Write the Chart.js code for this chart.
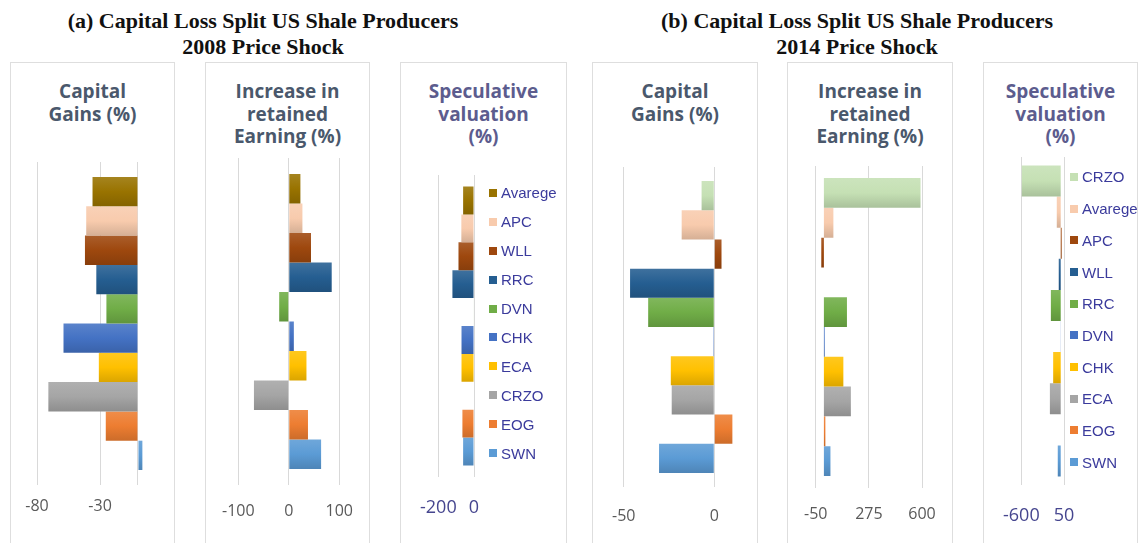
<!DOCTYPE html>
<html>
<head>
<meta charset="utf-8">
<script src="https://cdn.jsdelivr.net/npm/chart.js@4.4.1/dist/chart.umd.min.js"></script>
<style>
  html, body { margin: 0; padding: 0; background: #fff; overflow: hidden; }
  #page { position: relative; width: 1141px; height: 543px; overflow: hidden; }
  .head { position: absolute; top: 8px; width: 540px; text-align: center; font-family: "Liberation Serif", serif;
          font-weight: bold; font-size: 22px; line-height: 26px; color: #111; }
  .box { position: absolute; top: 62px; height: 520px; border: 1px solid #dedede; box-sizing: border-box; }
  canvas { position: absolute; top: 62px; }
  .ptitle { position: absolute; top: 80px; text-align: center; font-family: "Open Sans", sans-serif;
            font-weight: bold; font-size: 19px; line-height: 22.5px; color: #4a586c; }
  .ptitle.spec { color: #5c5c8e; }
  .legend { position: absolute; font-family: "Liberation Sans", Arial, sans-serif; font-size: 15px; color: #3b3b9c; }
  .legend .item { display: flex; align-items: center; white-space: nowrap; }
  .legend .sw { display: inline-block; width: 8px; height: 8px; margin-right: 4px; }
</style>
</head>
<body>
<div id="page">
  <div class="head" style="left:-7px">(a) Capital Loss Split US Shale Producers<br>2008 Price Shock</div>
  <div class="head" style="left:587px">(b) Capital Loss Split US Shale Producers<br>2014 Price Shock</div>
</div>
<script>
// ---- data ----
const firms2008 = ["Avarege", "APC", "WLL", "RRC", "DVN", "CHK", "ECA", "CRZO", "EOG", "SWN"];
const colors2008 = ["#997300", "#f8cbad", "#9e480e", "#255e91", "#70ad47", "#4472c4", "#ffc000", "#a5a5a5", "#ed7d31", "#5b9bd5"];
const capitalGains2008 = [-36, -41, -42, -33, -25, -59, -31, -71, -25.5, 3.5];
const retainedEarning2008 = [23, 27, 44, 85, -19, 10, 35, -69, 38, 64];
const speculative2008 = [-61, -71, -87, -121, -3, -70, -70, 0, -65, -61];

const firms2014 = ["CRZO", "Avarege", "APC", "WLL", "RRC", "DVN", "CHK", "ECA", "EOG", "SWN"];
const colors2014 = ["#c5e0b4", "#f8cbad", "#9e480e", "#255e91", "#70ad47", "#4472c4", "#ffc000", "#a5a5a5", "#ed7d31", "#5b9bd5"];
const capitalGains2014 = [-7, -18, 4, -46.5, -36.5, -0.5, -24, -23.5, 10, -30.5];
const retainedEarning2014 = [591, 58, -16, 0, 141, 5, 119, 165, 9, 40];
const speculative2014 = [-595, -60, 15, -30, -150, -2, -115, -165, 0, -45];

// tick labels shown on each value axis
const ticksGains2008 = [-80, -30];
const ticksEarning2008 = [-100, 0, 100];
const ticksSpec2008 = [-200, 0];
const ticksGains2014 = [-50, 0];
const ticksEarning2014 = [-50, 275, 600];
const ticksSpec2014 = [-600, 50];

// ---- layout of the six panels ----
const TOP = 62, H = 481;
const panels = [
  { title: ["Capital", "Gains (%)"], names: firms2008, colors: colors2008, values: capitalGains2008,
    ticks: ticksGains2008, extraGrid: [0], min: -80, max: 4,
    box: [10, 175], plot: [37, 143, 162, 485], barPct: 0.907, tickPad: 12, tickSize: 16, tickColor: "#595959" },
  { title: ["Increase in", "retained", "Earning (%)"], names: firms2008, colors: colors2008, values: retainedEarning2008,
    ticks: ticksEarning2008, extraGrid: [], min: -100, max: 100,
    box: [205, 370], plot: [237, 341, 158, 485], barPct: 0.902, tickPad: 17, tickSize: 16, tickColor: "#595959" },
  { title: ["Speculative", "valuation", "(%)"], spec: true, names: firms2008, colors: colors2008, values: speculative2008,
    ticks: ticksSpec2008, extraGrid: [], min: -200, max: 0,
    box: [400, 567], plot: [435, 474, 175, 477], barPct: 0.924, tickPad: 20, tickSize: 18, tickColor: "#46468f",
    legend: { x: 489, y: 193, step: 28.9 } },
  { title: ["Capital", "Gains (%)"], names: firms2014, colors: colors2014, values: capitalGains2014,
    ticks: ticksGains2014, extraGrid: [], min: -50, max: 12,
    box: [592, 758], plot: [619, 736, 167, 487], barPct: 0.912, tickPad: 20, tickSize: 16, tickColor: "#595959" },
  { title: ["Increase in", "retained", "Earning (%)"], names: firms2014, colors: colors2014, values: retainedEarning2014,
    ticks: ticksEarning2014, extraGrid: [], min: -50, max: 600,
    box: [787, 953], plot: [814, 922, 166, 488], barPct: 0.925, tickPad: 17, tickSize: 16, tickColor: "#595959" },
  { title: ["Speculative", "valuation", "(%)"], spec: true, names: firms2014, colors: colors2014, values: speculative2014,
    ticks: ticksSpec2014, extraGrid: [], min: -600, max: 50,
    box: [983, 1138], plot: [1017, 1064, 157, 485], barPct: 0.948, tickPad: 20, tickSize: 18, tickColor: "#46468f",
    legend: { x: 1070, y: 177, step: 31.7 } },
];

const page = document.getElementById("page");

// mix a hex colour towards white (f > 0) or black (f < 0)
function shade(hex, f) {
  const n = parseInt(hex.slice(1), 16);
  const c = [(n >> 16) & 255, (n >> 8) & 255, n & 255].map((v) =>
    Math.round(f > 0 ? v + (255 - v) * f : v * (1 + f))
  );
  return "rgb(" + c.join(",") + ")";
}

// excel-like soft gradient on each bar, top lighter, bottom darker
function barFill(p, i) {
  return (ctx) => {
    const chart = ctx.chart;
    const area = chart.chartArea;
    if (!area) return p.colors[i];
    const yScale = chart.scales.y;
    const mid = yScale.getPixelForValue(0);
    const band = area.height * p.barPct;
    const th = band / p.names.length;
    const top = mid - band / 2 + i * th;
    const g = chart.ctx.createLinearGradient(0, top, 0, top + th);
    g.addColorStop(0, shade(p.colors[i], 0.12));
    g.addColorStop(0.5, p.colors[i]);
    g.addColorStop(1, shade(p.colors[i], -0.14));
    return g;
  };
}

// legend drawn as html list, built from the chart's own legend items
function htmlLegend(chart, p) {
  const pos = p.legend;
  const items = chart.options.plugins.legend.labels.generateLabels(chart);
  const div = document.createElement("div");
  div.className = "legend";
  div.style.left = pos.x + "px";
  div.style.top = (pos.y - pos.step / 2) + "px";
  items.forEach((it, i) => {
    const row = document.createElement("div");
    row.className = "item";
    row.style.height = pos.step + "px";
    const sw = document.createElement("span");
    sw.className = "sw";
    sw.style.background = p.colors[i];
    row.appendChild(sw);
    row.appendChild(document.createTextNode(it.text));
    div.appendChild(row);
  });
  page.appendChild(div);
}

panels.forEach((p) => {
  const w = p.box[1] - p.box[0];

  const frame = document.createElement("div");
  frame.className = "box";
  frame.style.left = p.box[0] + "px";
  frame.style.width = w + "px";
  page.appendChild(frame);

  const t = document.createElement("div");
  t.className = "ptitle" + (p.spec ? " spec" : "");
  t.style.left = p.box[0] + "px";
  t.style.width = w + "px";
  t.innerHTML = p.title.join("<br>");
  page.appendChild(t);

  const cv = document.createElement("canvas");
  cv.width = w;
  cv.height = H;
  cv.style.left = p.box[0] + "px";
  page.appendChild(cv);

  const axisH = p.tickSize * 1.2 + 2 * p.tickPad;
  const grid = p.ticks.concat(p.extraGrid).sort((a, b) => a - b);

  const chart = new Chart(cv, {
    type: "bar",
    data: {
      labels: [""],
      datasets: p.names.map((name, i) => ({
        label: name,
        data: [p.values[i]],
        backgroundColor: barFill(p, i),
        borderWidth: 0,
        categoryPercentage: p.barPct,
        barPercentage: 1,
      })),
    },
    options: {
      indexAxis: "y",
      responsive: false,
      animation: false,
      layout: {
        padding: {
          left: p.plot[0] - p.box[0],
          right: p.box[1] - p.plot[1],
          top: p.plot[2] - TOP,
          bottom: TOP + H - p.plot[3] - axisH,
        },
      },
      plugins: {
        legend: { display: false },
        tooltip: { enabled: false },
      },
      scales: {
        x: {
          type: "linear",
          min: p.min,
          max: p.max,
          afterBuildTicks: (s) => {
            s.ticks = grid.map((v) => ({ value: v }));
          },
          ticks: {
            autoSkip: false,
            maxRotation: 0,
            minRotation: 0,
            padding: p.tickPad,
            color: p.tickColor,
            font: { family: "Open Sans", size: p.tickSize },
            callback: (v) => (p.ticks.includes(v) ? String(v) : ""),
          },
          grid: { color: "#d9d9d9", drawTicks: false },
          border: { display: false },
        },
        y: { display: false },
      },
    },
  });

  if (p.legend) htmlLegend(chart, p);
});
</script>
</body>
</html>
